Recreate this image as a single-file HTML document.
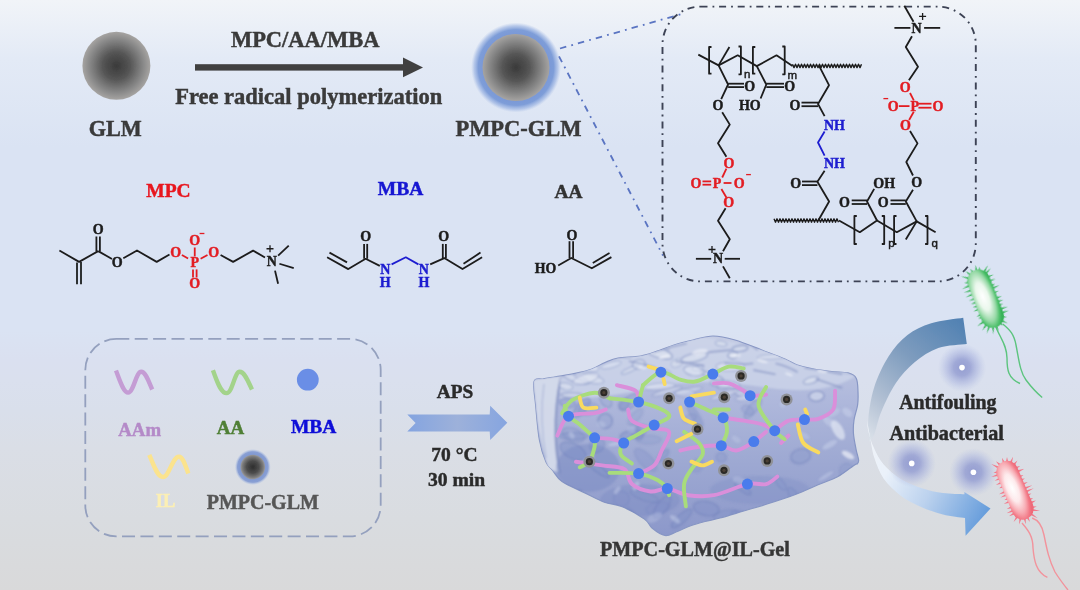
<!DOCTYPE html>
<html><head><meta charset="utf-8">
<style>
html,body{margin:0;padding:0;width:1080px;height:590px;overflow:hidden;}
svg{display:block;}
text{font-family:"Liberation Serif",serif;font-weight:bold;}
</style></head>
<body>
<svg width="1080" height="590" viewBox="0 0 1080 590">
<defs>
<linearGradient id="bg" x1="0" y1="0" x2="0" y2="1">
<stop offset="0" stop-color="#f1f4f8"/>
<stop offset="0.10" stop-color="#e3eaf6"/>
<stop offset="0.25" stop-color="#dae3f3"/>
<stop offset="0.51" stop-color="#dae3f3"/>
<stop offset="0.56" stop-color="#dae3f3"/>
<stop offset="0.61" stop-color="#dae0f0"/>
<stop offset="0.645" stop-color="#dae0ee"/>
<stop offset="0.695" stop-color="#d9dfeb"/>
<stop offset="0.76" stop-color="#dadee6"/>
<stop offset="0.88" stop-color="#d9dce0"/>
<stop offset="1" stop-color="#d9d9da"/>
</linearGradient>
<radialGradient id="sph" cx="0.5" cy="0.5" r="0.5">
<stop offset="0" stop-color="#3a3a3a"/>
<stop offset="0.4" stop-color="#555555"/>
<stop offset="0.8" stop-color="#8a8a8a"/>
<stop offset="1" stop-color="#a6a4a2"/>
</radialGradient>
<radialGradient id="halo" cx="0.5" cy="0.5" r="0.5">
<stop offset="0.7" stop-color="#7897d6"/>
<stop offset="0.84" stop-color="#7e9dd8"/>
<stop offset="0.93" stop-color="#90abdf" stop-opacity="0.55"/>
<stop offset="1" stop-color="#a8bde6" stop-opacity="0"/>
</radialGradient>
<radialGradient id="sph2" cx="0.5" cy="0.5" r="0.5">
<stop offset="0" stop-color="#2e2e2e"/>
<stop offset="0.5" stop-color="#4c4c4c"/>
<stop offset="0.85" stop-color="#7c7c7c"/>
<stop offset="1" stop-color="#9a9a9c"/>
</radialGradient>
<radialGradient id="halo2" cx="0.5" cy="0.5" r="0.5">
<stop offset="0.68" stop-color="#7f98d2"/>
<stop offset="0.85" stop-color="#8199d2" stop-opacity="0.9"/>
<stop offset="1" stop-color="#a8bde6" stop-opacity="0"/>
</radialGradient>
<linearGradient id="aps" x1="0" y1="0" x2="1" y2="0">
<stop offset="0" stop-color="#84a4e0"/>
<stop offset="0.5" stop-color="#9db1da"/>
<stop offset="1" stop-color="#86a5e0"/>
</linearGradient>
<linearGradient id="arrU" gradientUnits="userSpaceOnUse" x1="965" y1="325" x2="868" y2="440">
<stop offset="0" stop-color="#5282b3"/>
<stop offset="0.4" stop-color="#7e9cbe"/>
<stop offset="0.75" stop-color="#b3c1d4"/>
<stop offset="1" stop-color="#dce2ea"/>
</linearGradient>
<linearGradient id="arrL" gradientUnits="userSpaceOnUse" x1="870" y1="445" x2="990" y2="510">
<stop offset="0" stop-color="#eef2f8"/>
<stop offset="0.2" stop-color="#eaf1fa"/>
<stop offset="0.55" stop-color="#bcd2ee"/>
<stop offset="1" stop-color="#659cdb"/>
</linearGradient>
<radialGradient id="glow" cx="0.5" cy="0.5" r="0.5">
<stop offset="0" stop-color="#939cd0" stop-opacity="1"/>
<stop offset="0.35" stop-color="#98a1d3" stop-opacity="0.88"/>
<stop offset="0.7" stop-color="#a8b2de" stop-opacity="0.45"/>
<stop offset="1" stop-color="#b8c3e6" stop-opacity="0"/>
</radialGradient>
<radialGradient id="gbac" cx="0.42" cy="0.45" r="0.62">
<stop offset="0" stop-color="#ffffff"/>
<stop offset="0.38" stop-color="#eaf7ec"/>
<stop offset="0.7" stop-color="#96d9a6"/>
<stop offset="0.88" stop-color="#4fc06c"/>
<stop offset="1" stop-color="#36b257"/>
</radialGradient>
<radialGradient id="rbac" cx="0.42" cy="0.45" r="0.62">
<stop offset="0" stop-color="#ffffff"/>
<stop offset="0.38" stop-color="#fdeaec"/>
<stop offset="0.7" stop-color="#f7a9b1"/>
<stop offset="0.88" stop-color="#f27a87"/>
<stop offset="1" stop-color="#ee6a79"/>
</radialGradient>
<clipPath id="gelclip"><path d="M534.1,381.3 C535.4,376.8 539.7,379.6 543.3,378.9 C546.9,378.1 550.4,377.7 555.5,376.8 C560.6,375.9 567.7,375.0 573.8,373.7 C579.9,372.4 586.8,370.9 592.0,369.0 C597.2,367.1 600.7,364.4 605.0,362.6 C609.3,360.8 612.1,359.1 618.0,358.0 C623.9,356.9 633.8,357.2 640.6,356.0 C647.4,354.8 653.4,352.3 659.0,350.5 C664.6,348.7 668.3,346.8 674.0,345.0 C679.7,343.2 686.5,341.5 693.0,340.0 C699.5,338.5 706.0,336.0 713.0,336.0 C720.0,336.0 727.0,337.7 735.0,340.0 C743.0,342.3 753.0,346.6 761.3,349.8 C769.6,353.0 779.1,356.5 785.0,359.0 C790.9,361.5 792.0,363.1 796.6,364.7 C801.2,366.3 806.9,367.7 812.8,368.8 C818.7,369.9 825.9,370.8 831.8,371.5 C837.7,372.2 843.9,371.8 848.0,372.9 C852.1,374.0 854.5,375.1 856.2,378.3 C857.9,381.5 857.8,387.6 858.0,392.0 C858.2,396.4 858.3,400.3 857.6,405.0 C856.9,409.7 854.7,415.2 854.0,420.0 C853.3,424.8 853.1,429.0 853.5,434.0 C853.9,439.0 855.4,445.8 856.2,450.1 C857.1,454.4 858.4,457.8 858.6,460.0 C858.8,462.2 858.4,462.6 857.6,463.5 C856.8,464.4 857.1,463.2 853.8,465.4 C850.5,467.6 843.5,473.5 837.6,476.7 C831.7,479.9 825.1,481.8 818.1,484.8 C811.1,487.8 804.0,491.2 795.4,494.5 C786.8,497.8 775.2,501.5 766.3,504.3 C757.4,507.1 749.7,509.2 742.0,511.5 C734.3,513.8 726.2,516.3 720.0,518.0 C713.8,519.7 710.0,520.2 705.0,521.5 C700.0,522.8 694.8,524.2 690.0,526.0 C685.2,527.8 680.2,530.4 676.0,532.0 C671.8,533.6 669.0,536.2 665.0,535.5 C661.0,534.8 655.4,530.8 652.0,528.0 C648.6,525.2 649.4,522.5 644.4,519.0 C639.4,515.5 628.9,509.5 622.2,506.7 C615.5,503.9 610.5,504.5 604.3,502.2 C598.1,499.9 591.8,496.3 584.8,492.9 C577.8,489.5 567.4,485.4 562.0,481.6 C556.6,477.8 555.1,473.5 552.4,470.2 C549.7,466.9 548.2,467.0 546.0,462.0 C543.8,457.0 541.1,449.4 539.4,440.0 C537.7,430.6 536.6,415.5 535.7,405.7 C534.8,395.9 532.8,385.8 534.1,381.3Z"/></clipPath>
<filter id="soft" x="-5%" y="-5%" width="110%" height="110%"><feGaussianBlur stdDeviation="0.9"/></filter>
<linearGradient id="gelg" x1="0" y1="0" x2="0" y2="1">
<stop offset="0" stop-color="#c4cbe3"/>
<stop offset="0.3" stop-color="#b0b9dc"/>
<stop offset="0.6" stop-color="#9faad3"/>
<stop offset="1" stop-color="#8c98ca"/>
</linearGradient>
<filter id="gblur" x="0" y="0" width="100%" height="100%" filterUnits="userSpaceOnUse"><feGaussianBlur stdDeviation="0.5"/></filter>
</defs>
<g filter="url(#gblur)">
<rect x="0" y="0" width="1080" height="590" fill="url(#bg)"/>

<!-- GLM sphere -->
<circle cx="116.4" cy="65.8" r="34" fill="url(#sph)"/>
<text x="88.7" y="136.2" font-size="22.2" fill="#3a3a3a" stroke="#3a3a3a" stroke-width="0.45">GLM</text>

<!-- arrow -->
<rect x="195" y="64.2" width="210" height="6.4" fill="#404040"/>
<polygon points="403,57.6 423,67.4 403,77.2" fill="#404040"/>
<text x="230.9" y="47.2" font-size="22.5" fill="#3a3a3a" stroke="#3a3a3a" stroke-width="0.45">MPC/AA/MBA</text>
<text x="175.2" y="104.3" font-size="22.5" fill="#3a3a3a" stroke="#3a3a3a" stroke-width="0.45">Free radical polymerization</text>

<!-- PMPC-GLM sphere -->
<circle cx="516" cy="67.5" r="45" fill="url(#halo)"/>
<circle cx="516" cy="67.5" r="33.5" fill="url(#sph)"/>
<text x="455.4" y="135.8" font-size="22.5" fill="#3a3a3a" stroke="#3a3a3a" stroke-width="0.45">PMPC-GLM</text>

<!-- blue dashed zoom lines -->
<g stroke="#5a74c2" stroke-width="1.8" fill="none" stroke-dasharray="6.5,5.2,1.8,5.1">
<line x1="560" y1="48.5" x2="681" y2="14.2"/>
<line x1="559" y1="56.3" x2="663" y2="255.6"/>
</g>
<!-- zoom box -->
<rect x="662.5" y="6.6" width="313.3" height="274.8" rx="38" ry="38" fill="none" stroke="#3c4354" stroke-width="1.9" stroke-dasharray="7,5,1.8,4.8"/>


<!-- labels -->
<text x="146.3" y="196.5" font-size="19.5" fill="#e8141e" stroke="#e8141e" stroke-width="0.45">MPC</text>
<text x="377.8" y="195.4" font-size="19.5" fill="#1414d2" stroke="#1414d2" stroke-width="0.45">MBA</text>
<text x="554.5" y="198.3" font-size="19.4" fill="#333" stroke="#333" stroke-width="0.45">AA</text>


<g stroke="#1c1c1c" stroke-width="1.8" stroke-linejoin="round" stroke-linecap="butt">
<polyline points="59.4,250.5 79.1,261.9 98.2,251.1" fill="none"/>
<polyline points="77,262.5 77,284.2" fill="none"/>
<polyline points="81,262 81,284.2" fill="none"/>
<polyline points="96.4,251.5 96.4,236.5" fill="none"/>
<polyline points="99.9,251.5 99.9,236.5" fill="none"/>
<polyline points="98.2,251.1 112,259" fill="none"/>
<polyline points="123.3,258.3 137,250.5 156.7,261.9 169.5,254.5" fill="none"/>
<polyline points="181.9,255 188.1,258.5" stroke="#e31e24" fill="none"/>
<polyline points="194.75,256.4 194.75,247.5" stroke="#e31e24" fill="none"/>
<polyline points="193,269.4 193,277.5" stroke="#e31e24" fill="none"/>
<polyline points="196.6,269.4 196.6,277.5" stroke="#e31e24" fill="none"/>
<polyline points="200.6,258.75 207.5,255" stroke="#e31e24" fill="none"/>
<polyline points="220.6,255 233.1,261.9 253.1,250.6 265,257.5" fill="none"/>
<polyline points="278.1,255.6 288.75,245.6" fill="none"/>
<polyline points="279.4,263.75 293.75,268.1" fill="none"/>
<polyline points="275,270.6 278.1,283.75" fill="none"/>
<polyline points="327.1,257.3 348.3,269.1 365.6,258.8 379.8,265.9" fill="none"/>
<polyline points="329.5,252.6 347,262.4" fill="none"/>
<polyline points="364.1,258.8 364.1,243.9" fill="none"/>
<polyline points="367.2,258.8 367.2,243.9" fill="none"/>
<polyline points="391.6,264.4 405.8,257.3 418.4,264.4" stroke="#1f1fd0" fill="none"/>
<polyline points="430.2,264.4 444.3,258.1 462.5,269.1 482.1,257.3" fill="none"/>
<polyline points="463.5,263.8 480.5,252.6" fill="none"/>
<polyline points="442.8,258.1 442.8,243.9" fill="none"/>
<polyline points="445.9,258.1 445.9,243.9" fill="none"/>
<polyline points="558.2,265.5 571.3,258 591.8,268.3 611.4,257.1" fill="none"/>
<polyline points="592.8,263 609.5,253" fill="none"/>
<polyline points="569.5,258 569.5,241.2" fill="none"/>
<polyline points="573.1,258 573.1,241.2" fill="none"/>
<polyline points="698.3,54.6 718.6,65.4 737.7,55.3 756.8,66.1 776.5,55.3 792.5,65.9" fill="none"/>
<polyline points="718.6,65.4 729.4,47" fill="none"/>
<g stroke-width="1.4"><polyline points="792.5,64.2 794.0,67.6 795.5,64.2 797.0,67.6 798.5,64.2 800.0,67.6 801.5,64.2 803.0,67.6 804.5,64.2 806.0,67.6 807.5,64.2 809.0,67.6 810.5,64.2 812.0,67.6 813.5,64.2 815.0,67.6 816.5,64.2 818.0,67.6 819.5,64.2 821.0,67.6 822.5,64.2 824.0,67.6 825.5,64.2 827.0,67.6 828.5,64.2 830.0,67.6 831.5,64.2 833.0,67.6 834.5,64.2 836.0,67.6 837.5,64.2 839.0,67.6 840.5,64.2 842.0,67.6 843.5,64.2 845.0,67.6 846.5,64.2 848.0,67.6 849.5,64.2 851.0,67.6 852.5,64.2 854.0,67.6 855.5,64.2 857.0,67.6 858.5,64.2 860.0,67.6 861.5,64.2" fill="none"/></g>
<polyline points="711.5,47 709.1,47 709.1,73.7 711.5,73.7" fill="none"/>
<polyline points="738.5,46.5 740.9,46.5 740.9,74.3 738.5,74.3" fill="none"/>
<polyline points="755.3,47 752.9,47 752.9,73.7 755.3,73.7" fill="none"/>
<polyline points="782.3000000000001,46.5 784.7,46.5 784.7,74.3 782.3000000000001,74.3" fill="none"/>
<polyline points="718.6,65.4 728.1,84.5 721.2,99.1" fill="none"/>
<polyline points="728.1,83.7 744,83.7" fill="none"/>
<polyline points="728.1,87.1 744,87.1" fill="none"/>
<polyline points="722.2,112.3 729.8,124.6 718,143.2 726.4,156.8" fill="none"/>
<polyline points="726.4,168.6 722.2,177.5" stroke="#e31e24" fill="none"/>
<polyline points="702.5,181.4 711.2,181.4" stroke="#e31e24" fill="none"/>
<polyline points="702.5,184.7 711.2,184.7" stroke="#e31e24" fill="none"/>
<polyline points="723.6,183 731.5,183" stroke="#e31e24" fill="none"/>
<polyline points="721.4,189 726.4,197.5" stroke="#e31e24" fill="none"/>
<polyline points="725.6,208.3 718,220.7 729.8,239.3 723,251.2" fill="none"/>
<polyline points="695.9,258.8 711.2,258.8" fill="none"/>
<polyline points="724.7,258.8 740,258.8" fill="none"/>
<polyline points="723,266.4 729.8,278.3" fill="none"/>
<polyline points="756.8,66.1 766.3,84.5 760.6,98.5" fill="none"/>
<polyline points="766.3,83.7 784,83.7" fill="none"/>
<polyline points="766.3,87.1 784,87.1" fill="none"/>
<polyline points="819.1,65.9 829,85.2 818,104 824.6,116.1" fill="none"/>
<polyline points="801.5,102.6 818,102.6" fill="none"/>
<polyline points="801.5,106.2 818,106.2" fill="none"/>
<polyline points="824.6,131.5 818,142.5 824.6,155.7" stroke="#1f1fd0" fill="none"/>
<polyline points="824.6,170.8 817.4,181.7 829.1,201.5 818.3,220.5" fill="none"/>
<polyline points="802,181.5 817.4,181.5" fill="none"/>
<polyline points="802,185.1 817.4,185.1" fill="none"/>
<g stroke-width="1.4"><polyline points="774.0,218.8 775.5,222.2 777.0,218.8 778.5,222.2 780.0,218.8 781.5,222.2 783.0,218.8 784.5,222.2 786.0,218.8 787.5,222.2 789.0,218.8 790.5,222.2 792.0,218.8 793.5,222.2 795.0,218.8 796.5,222.2 798.0,218.8 799.5,222.2 801.0,218.8 802.5,222.2 804.0,218.8 805.5,222.2 807.0,218.8 808.5,222.2 810.0,218.8 811.5,222.2 813.0,218.8 814.5,222.2 816.0,218.8 817.5,222.2 819.0,218.8 820.5,222.2 822.0,218.8 823.5,222.2 825.0,218.8 826.5,222.2 828.0,218.8 829.5,222.2 831.0,218.8 832.5,222.2 834.0,218.8 835.5,222.2 837.0,218.8 838.5,222.2" fill="none"/></g>
<polyline points="839,220.5 859.8,232.2 877,220.5 896.8,232.2 916.7,221.4 935.6,232.2" fill="none"/>
<polyline points="856.8,216 854.4,216 854.4,244 856.8,244" fill="none"/>
<polyline points="881.8000000000001,216 884.2,216 884.2,244 881.8000000000001,244" fill="none"/>
<polyline points="896.5,216 894.1,216 894.1,244 896.5,244" fill="none"/>
<polyline points="925.1,216 927.5,216 927.5,244 925.1,244" fill="none"/>
<polyline points="916.7,221.4 905.8,239.5" fill="none"/>
<polyline points="877,220.5 867,201.5 874.2,188.9" fill="none"/>
<polyline points="851.7,200.4 867,200.4" fill="none"/>
<polyline points="851.7,204 867,204" fill="none"/>
<polyline points="916.7,221.4 905.8,201.5 913,189.8" fill="none"/>
<polyline points="890.5,200.4 905.8,200.4" fill="none"/>
<polyline points="890.5,204 905.8,204" fill="none"/>
<polyline points="913,175.5 906.3,162 917.5,143.4 910,131" fill="none"/>
<polyline points="909.1,120 913.8,111.7" stroke="#e31e24" fill="none"/>
<polyline points="898.9,106.1 909.5,106.1" stroke="#e31e24" fill="none"/>
<polyline points="918.4,103.7 931.5,103.7" stroke="#e31e24" fill="none"/>
<polyline points="918.4,107.7 931.5,107.7" stroke="#e31e24" fill="none"/>
<polyline points="913.8,100.3 910,93" stroke="#e31e24" fill="none"/>
<polyline points="908.9,80.3 918,66.8 905.8,47 912,36.3" fill="none"/>
<polyline points="894.4,27.9 910.4,27.9" fill="none"/>
<polyline points="924.1,27.9 940.2,27.9" fill="none"/>
<polyline points="913.5,21.8 904.3,5.8" fill="none"/>
</g>
<text x="98.2" y="233.5" font-size="14" fill="#1c1c1c" text-anchor="middle"  stroke="#1c1c1c" stroke-width="0.45">O</text>
<text x="117.3" y="266.5" font-size="14" fill="#1c1c1c" text-anchor="middle"  stroke="#1c1c1c" stroke-width="0.45">O</text>
<text x="175.6" y="256.5" font-size="14" fill="#e31e24" text-anchor="middle"  stroke="#e31e24" stroke-width="0.45">O</text>
<text x="194.75" y="266.5" font-size="14" fill="#e31e24" text-anchor="middle"  stroke="#e31e24" stroke-width="0.45">P</text>
<text x="194.75" y="244.6" font-size="14" fill="#e31e24" text-anchor="middle"  stroke="#e31e24" stroke-width="0.45">O</text>
<text x="194.75" y="288.4" font-size="14" fill="#e31e24" text-anchor="middle"  stroke="#e31e24" stroke-width="0.45">O</text>
<text x="213.75" y="256.5" font-size="14" fill="#e31e24" text-anchor="middle"  stroke="#e31e24" stroke-width="0.45">O</text>
<line x1="199.6" y1="233.5" x2="204.4" y2="233.5" stroke="#e31e24" stroke-width="1.3"/>
<text x="271.9" y="265.9" font-size="14" fill="#1c1c1c" text-anchor="middle"  stroke="#1c1c1c" stroke-width="0.45">N</text>
<path d="M266.5,248.75H273.5M270,245.25V252.25" stroke="#1c1c1c" stroke-width="1.3"/>
<text x="365.6" y="241.4" font-size="14" fill="#1c1c1c" text-anchor="middle"  stroke="#1c1c1c" stroke-width="0.45">O</text>
<text x="443.6" y="241.4" font-size="14" fill="#1c1c1c" text-anchor="middle"  stroke="#1c1c1c" stroke-width="0.45">O</text>
<text x="385.3" y="273.7" font-size="14" fill="#1f1fd0" text-anchor="middle"  stroke="#1f1fd0" stroke-width="0.45">N</text>
<text x="385.3" y="287.1" font-size="14" fill="#1f1fd0" text-anchor="middle"  stroke="#1f1fd0" stroke-width="0.45">H</text>
<text x="423.9" y="273.7" font-size="14" fill="#1f1fd0" text-anchor="middle"  stroke="#1f1fd0" stroke-width="0.45">N</text>
<text x="423.9" y="287.1" font-size="14" fill="#1f1fd0" text-anchor="middle"  stroke="#1f1fd0" stroke-width="0.45">H</text>
<text x="545.6" y="272.9" font-size="13.8" fill="#1c1c1c" text-anchor="middle"  stroke="#1c1c1c" stroke-width="0.45">HO</text>
<text x="571.9" y="239.7" font-size="14" fill="#1c1c1c" text-anchor="middle"  stroke="#1c1c1c" stroke-width="0.45">O</text>
<text x="749.8" y="91.0" font-size="14" fill="#1c1c1c" text-anchor="middle"  stroke="#1c1c1c" stroke-width="0.45">O</text>
<text x="718" y="109.5" font-size="14" fill="#1c1c1c" text-anchor="middle"  stroke="#1c1c1c" stroke-width="0.45">O</text>
<text x="789.8" y="91.0" font-size="14" fill="#1c1c1c" text-anchor="middle"  stroke="#1c1c1c" stroke-width="0.45">O</text>
<text x="749.8" y="110.1" font-size="14" fill="#1c1c1c" text-anchor="middle"  stroke="#1c1c1c" stroke-width="0.45">HO</text>
<text x="729" y="168.2" font-size="14" fill="#e31e24" text-anchor="middle"  stroke="#e31e24" stroke-width="0.45">O</text>
<text x="717.1" y="187.6" font-size="14" fill="#e31e24" text-anchor="middle"  stroke="#e31e24" stroke-width="0.45">P</text>
<text x="695.9" y="187.6" font-size="14" fill="#e31e24" text-anchor="middle"  stroke="#e31e24" stroke-width="0.45">O</text>
<text x="739.2" y="187.6" font-size="14" fill="#e31e24" text-anchor="middle"  stroke="#e31e24" stroke-width="0.45">O</text>
<text x="728.6" y="206.6" font-size="14" fill="#e31e24" text-anchor="middle"  stroke="#e31e24" stroke-width="0.45">O</text>
<text x="718" y="263.4" font-size="14" fill="#1c1c1c" text-anchor="middle"  stroke="#1c1c1c" stroke-width="0.45">N</text>
<text x="794.9" y="109.6" font-size="14" fill="#1c1c1c" text-anchor="middle"  stroke="#1c1c1c" stroke-width="0.45">O</text>
<text x="834.5" y="129.5" font-size="14" fill="#1f1fd0" text-anchor="middle"  stroke="#1f1fd0" stroke-width="0.45">NH</text>
<text x="834.5" y="168.0" font-size="14" fill="#1f1fd0" text-anchor="middle"  stroke="#1f1fd0" stroke-width="0.45">NH</text>
<text x="795.7" y="188.1" font-size="14" fill="#1c1c1c" text-anchor="middle"  stroke="#1c1c1c" stroke-width="0.45">O</text>
<text x="844.5" y="207.0" font-size="14" fill="#1c1c1c" text-anchor="middle"  stroke="#1c1c1c" stroke-width="0.45">O</text>
<text x="884.2" y="188.1" font-size="14" fill="#1c1c1c" text-anchor="middle"  stroke="#1c1c1c" stroke-width="0.45">OH</text>
<text x="883.3" y="207.0" font-size="14" fill="#1c1c1c" text-anchor="middle"  stroke="#1c1c1c" stroke-width="0.45">O</text>
<text x="916.7" y="187.2" font-size="14" fill="#1c1c1c" text-anchor="middle"  stroke="#1c1c1c" stroke-width="0.45">O</text>
<text x="905.4" y="130.2" font-size="14" fill="#e31e24" text-anchor="middle"  stroke="#e31e24" stroke-width="0.45">O</text>
<text x="914.7" y="110.7" font-size="14" fill="#e31e24" text-anchor="middle"  stroke="#e31e24" stroke-width="0.45">P</text>
<text x="893.3" y="110.7" font-size="14" fill="#e31e24" text-anchor="middle"  stroke="#e31e24" stroke-width="0.45">O</text>
<text x="938" y="110.7" font-size="14" fill="#e31e24" text-anchor="middle"  stroke="#e31e24" stroke-width="0.45">O</text>
<text x="905.3" y="91.6" font-size="14" fill="#e31e24" text-anchor="middle"  stroke="#e31e24" stroke-width="0.45">O</text>
<text x="916.5" y="32.5" font-size="14" fill="#1c1c1c" text-anchor="middle"  stroke="#1c1c1c" stroke-width="0.45">N</text>
<line x1="746.1" y1="174.6" x2="750.9" y2="174.6" stroke="#e31e24" stroke-width="1.3"/>
<line x1="883.4" y1="98.6" x2="888.1999999999999" y2="98.6" stroke="#e31e24" stroke-width="1.3"/>
<path d="M708.5,249.5H715.5M712,246.0V253.0" stroke="#1c1c1c" stroke-width="1.3"/>
<path d="M919.1,16.4H926.1M922.6,12.899999999999999V19.9" stroke="#1c1c1c" stroke-width="1.3"/>
<text x="747.2" y="77.5" font-size="11.5" fill="#1c1c1c" text-anchor="middle" style="font-family:'Liberation Sans',sans-serif;font-weight:normal" stroke="#1c1c1c" stroke-width="0.45">n</text>
<text x="792.4" y="79.39999999999999" font-size="11.5" fill="#1c1c1c" text-anchor="middle" style="font-family:'Liberation Sans',sans-serif;font-weight:normal" stroke="#1c1c1c" stroke-width="0.45">m</text>
<text x="891.4" y="246.8" font-size="11.5" fill="#1c1c1c" text-anchor="middle" style="font-family:'Liberation Sans',sans-serif;font-weight:normal" stroke="#1c1c1c" stroke-width="0.45">p</text>
<text x="934.7" y="246.8" font-size="11.5" fill="#1c1c1c" text-anchor="middle" style="font-family:'Liberation Sans',sans-serif;font-weight:normal" stroke="#1c1c1c" stroke-width="0.45">q</text>
<!-- legend box -->
<rect x="85.3" y="338.9" width="295.4" height="197.5" rx="31" ry="31" fill="none" stroke="#94a0be" stroke-width="1.8" stroke-dasharray="13,5.4"/>
<g fill="none" stroke-width="4.4" stroke-linecap="butt">
<path d="M116,370.5 C120,381 123.5,392.6 128.2,392.6 C133.5,392.6 136,371.8 141.2,371.8 C145.5,371.8 148.5,381 152.2,389.5" stroke="#c49cd4"/>
<path d="M212.9,370.3 C217,381 220.5,393.1 226.6,393.1 C232.5,393.1 234.5,371.8 239.6,371.8 C244.5,371.8 248,381 252,389.5" stroke="#a3d38b"/>
<path d="M149.3,454.8 C154,466 157.5,477 163.1,477 C169,477 172.5,456.7 178.9,456.7 C183,456.7 185.5,466 188.3,473.5" stroke="#fbe38e"/>
</g>
<circle cx="307.8" cy="379.7" r="10.9" fill="#6a8ee6"/>
<circle cx="252.8" cy="467" r="18" fill="url(#halo2)"/>
<circle cx="252.8" cy="467" r="12.3" fill="url(#sph2)"/>
<text x="118.3" y="435.8" font-size="18.8" fill="#b48ac8" stroke="#b48ac8" stroke-width="0.45">AAm</text>
<text x="216.7" y="433.6" font-size="19" fill="#4f7f35" stroke="#4f7f35" stroke-width="0.45">AA</text>
<text x="290.9" y="432.6" font-size="19.5" fill="#0e0ed8" stroke="#0e0ed8" stroke-width="0.45">MBA</text>
<text x="155.7" y="506.7" font-size="18.5" fill="#fcefb4" stroke="#fcefb4" stroke-width="0.45">IL</text>
<text x="206.7" y="508.5" font-size="20" fill="#575757" stroke="#575757" stroke-width="0.45">PMPC-GLM</text>
<!-- APS arrow -->
<polygon points="407.3,414.5 415.6,423 407.3,431.6 489.7,431.6 490.2,439.9 507.3,422.8 490.2,405.7 489.7,414.5" fill="url(#aps)"/>
<text x="436.8" y="397.5" font-size="19.3" fill="#2a2a2a" stroke="#2a2a2a" stroke-width="0.45">APS</text>
<text x="431.3" y="461.4" font-size="19.5" fill="#2a2a2a" stroke="#2a2a2a" stroke-width="0.45">70 °C</text>
<text x="428" y="485.6" font-size="19.6" fill="#2a2a2a" stroke="#2a2a2a" stroke-width="0.45">30 min</text>
<text x="600" y="556.2" font-size="20.15" fill="#363636" stroke="#363636" stroke-width="0.45">PMPC-GLM@IL-Gel</text>

<path d="M534.1,381.3 C535.4,376.8 539.7,379.6 543.3,378.9 C546.9,378.1 550.4,377.7 555.5,376.8 C560.6,375.9 567.7,375.0 573.8,373.7 C579.9,372.4 586.8,370.9 592.0,369.0 C597.2,367.1 600.7,364.4 605.0,362.6 C609.3,360.8 612.1,359.1 618.0,358.0 C623.9,356.9 633.8,357.2 640.6,356.0 C647.4,354.8 653.4,352.3 659.0,350.5 C664.6,348.7 668.3,346.8 674.0,345.0 C679.7,343.2 686.5,341.5 693.0,340.0 C699.5,338.5 706.0,336.0 713.0,336.0 C720.0,336.0 727.0,337.7 735.0,340.0 C743.0,342.3 753.0,346.6 761.3,349.8 C769.6,353.0 779.1,356.5 785.0,359.0 C790.9,361.5 792.0,363.1 796.6,364.7 C801.2,366.3 806.9,367.7 812.8,368.8 C818.7,369.9 825.9,370.8 831.8,371.5 C837.7,372.2 843.9,371.8 848.0,372.9 C852.1,374.0 854.5,375.1 856.2,378.3 C857.9,381.5 857.8,387.6 858.0,392.0 C858.2,396.4 858.3,400.3 857.6,405.0 C856.9,409.7 854.7,415.2 854.0,420.0 C853.3,424.8 853.1,429.0 853.5,434.0 C853.9,439.0 855.4,445.8 856.2,450.1 C857.1,454.4 858.4,457.8 858.6,460.0 C858.8,462.2 858.4,462.6 857.6,463.5 C856.8,464.4 857.1,463.2 853.8,465.4 C850.5,467.6 843.5,473.5 837.6,476.7 C831.7,479.9 825.1,481.8 818.1,484.8 C811.1,487.8 804.0,491.2 795.4,494.5 C786.8,497.8 775.2,501.5 766.3,504.3 C757.4,507.1 749.7,509.2 742.0,511.5 C734.3,513.8 726.2,516.3 720.0,518.0 C713.8,519.7 710.0,520.2 705.0,521.5 C700.0,522.8 694.8,524.2 690.0,526.0 C685.2,527.8 680.2,530.4 676.0,532.0 C671.8,533.6 669.0,536.2 665.0,535.5 C661.0,534.8 655.4,530.8 652.0,528.0 C648.6,525.2 649.4,522.5 644.4,519.0 C639.4,515.5 628.9,509.5 622.2,506.7 C615.5,503.9 610.5,504.5 604.3,502.2 C598.1,499.9 591.8,496.3 584.8,492.9 C577.8,489.5 567.4,485.4 562.0,481.6 C556.6,477.8 555.1,473.5 552.4,470.2 C549.7,466.9 548.2,467.0 546.0,462.0 C543.8,457.0 541.1,449.4 539.4,440.0 C537.7,430.6 536.6,415.5 535.7,405.7 C534.8,395.9 532.8,385.8 534.1,381.3Z" fill="url(#gelg)" stroke="#8796c4" stroke-width="1.2"/>
<g clip-path="url(#gelclip)"><g filter="url(#soft)">
<path d="M533,380 C542,378 552,377 562,376 C558,392 556,410 556,430 C556,446 557,458 560,472 C555,472 551,470 548,468 C542,450 538,430 536,410 C535,398 534,390 533,380Z" fill="#d4daea" opacity="0.95"/>
<path d="M561,377 C557,395 555,415 555.5,435 C556,450 557.5,462 560,473" stroke="#6f80b8" stroke-width="2" fill="none" opacity="0.75"/>
<path d="M544,384 C541,405 541,430 546,458" stroke="#9aa6cf" stroke-width="1.3" fill="none" opacity="0.6"/>
<ellipse cx="588" cy="468" rx="32" ry="24" fill="#7688c0" opacity="0.45"/>
<ellipse cx="640" cy="500" rx="40" ry="16" fill="#7688c0" opacity="0.35"/>
<ellipse cx="760" cy="490" rx="50" ry="14" fill="#7a8bc2" opacity="0.3"/>
<path d="M560,378 C600,368 640,346 700,337 C740,340 780,356 856,376 C830,392 800,392 770,388 C730,382 690,378 650,388 C615,396 585,400 560,398Z" fill="#cdd5ea" opacity="0.75"/>
<ellipse cx="657.3" cy="348.7" rx="12.2" ry="2.2" transform="rotate(2 657.3 348.7)" fill="#e3e8f4" fill-opacity="0.41" stroke="#6f81ba" stroke-opacity="0.32" stroke-width="1.2"/>
<ellipse cx="575.7" cy="365.2" rx="5.8" ry="2.3" transform="rotate(-4 575.7 365.2)" fill="#e3e8f4" fill-opacity="0.55" stroke="#6f81ba" stroke-opacity="0.34" stroke-width="1.0"/>
<ellipse cx="743.8" cy="395.0" rx="11.3" ry="3.2" transform="rotate(24 743.8 395.0)" fill="#e3e8f4" fill-opacity="0.31" stroke="#6f81ba" stroke-opacity="0.56" stroke-width="1.0"/>
<ellipse cx="606.1" cy="346.8" rx="8.4" ry="4.4" transform="rotate(-16 606.1 346.8)" fill="#e3e8f4" fill-opacity="0.47" stroke="#6f81ba" stroke-opacity="0.49" stroke-width="1.1"/>
<ellipse cx="721.1" cy="343.6" rx="5.7" ry="2.6" transform="rotate(9 721.1 343.6)" fill="#e3e8f4" fill-opacity="0.43" stroke="#6f81ba" stroke-opacity="0.39" stroke-width="1.3"/>
<ellipse cx="694.2" cy="357.4" rx="13.7" ry="4.1" transform="rotate(-13 694.2 357.4)" fill="#e3e8f4" fill-opacity="0.47" stroke="#6f81ba" stroke-opacity="0.46" stroke-width="1.5"/>
<ellipse cx="772.9" cy="356.7" rx="15.8" ry="2.4" transform="rotate(-4 772.9 356.7)" fill="#e3e8f4" fill-opacity="0.53" stroke="#6f81ba" stroke-opacity="0.35" stroke-width="1.2"/>
<ellipse cx="576.2" cy="378.8" rx="13.4" ry="3.7" transform="rotate(19 576.2 378.8)" fill="#e3e8f4" fill-opacity="0.39" stroke="#6f81ba" stroke-opacity="0.51" stroke-width="1.3"/>
<ellipse cx="730.3" cy="366.5" rx="14.2" ry="4.8" transform="rotate(-1 730.3 366.5)" fill="#e3e8f4" fill-opacity="0.50" stroke="#6f81ba" stroke-opacity="0.32" stroke-width="1.4"/>
<ellipse cx="749.4" cy="397.6" rx="14.0" ry="2.9" transform="rotate(-6 749.4 397.6)" fill="#e3e8f4" fill-opacity="0.50" stroke="#6f81ba" stroke-opacity="0.31" stroke-width="1.2"/>
<ellipse cx="612.9" cy="346.8" rx="5.6" ry="4.3" transform="rotate(-19 612.9 346.8)" fill="#e3e8f4" fill-opacity="0.37" stroke="#6f81ba" stroke-opacity="0.42" stroke-width="1.5"/>
<ellipse cx="588.0" cy="366.1" rx="11.0" ry="4.7" transform="rotate(16 588.0 366.1)" fill="#e3e8f4" fill-opacity="0.56" stroke="#6f81ba" stroke-opacity="0.38" stroke-width="1.1"/>
<ellipse cx="667.2" cy="391.3" rx="15.5" ry="2.5" transform="rotate(-16 667.2 391.3)" fill="#e3e8f4" fill-opacity="0.37" stroke="#6f81ba" stroke-opacity="0.37" stroke-width="1.2"/>
<ellipse cx="732.9" cy="355.2" rx="5.0" ry="3.3" transform="rotate(-7 732.9 355.2)" fill="#e3e8f4" fill-opacity="0.47" stroke="#6f81ba" stroke-opacity="0.59" stroke-width="1.4"/>
<ellipse cx="711.9" cy="375.8" rx="12.4" ry="2.2" transform="rotate(20 711.9 375.8)" fill="#e3e8f4" fill-opacity="0.53" stroke="#6f81ba" stroke-opacity="0.56" stroke-width="1.4"/>
<ellipse cx="676.8" cy="363.1" rx="6.1" ry="3.9" transform="rotate(-22 676.8 363.1)" fill="#e3e8f4" fill-opacity="0.32" stroke="#6f81ba" stroke-opacity="0.36" stroke-width="0.9"/>
<ellipse cx="661.9" cy="343.0" rx="5.0" ry="2.5" transform="rotate(-20 661.9 343.0)" fill="#e3e8f4" fill-opacity="0.41" stroke="#6f81ba" stroke-opacity="0.31" stroke-width="1.5"/>
<ellipse cx="740.0" cy="348.6" rx="7.8" ry="3.0" transform="rotate(-7 740.0 348.6)" fill="#e3e8f4" fill-opacity="0.34" stroke="#6f81ba" stroke-opacity="0.55" stroke-width="1.6"/>
<ellipse cx="697.8" cy="368.1" rx="5.9" ry="2.3" transform="rotate(-8 697.8 368.1)" fill="#e3e8f4" fill-opacity="0.38" stroke="#6f81ba" stroke-opacity="0.55" stroke-width="0.9"/>
<ellipse cx="571.6" cy="395.2" rx="10.8" ry="2.4" transform="rotate(2 571.6 395.2)" fill="#e3e8f4" fill-opacity="0.31" stroke="#6f81ba" stroke-opacity="0.46" stroke-width="1.6"/>
<ellipse cx="811.0" cy="380.4" rx="7.9" ry="3.1" transform="rotate(-17 811.0 380.4)" fill="#e3e8f4" fill-opacity="0.53" stroke="#6f81ba" stroke-opacity="0.46" stroke-width="1.4"/>
<ellipse cx="659.0" cy="352.9" rx="13.9" ry="5.0" transform="rotate(18 659.0 352.9)" fill="#e3e8f4" fill-opacity="0.54" stroke="#6f81ba" stroke-opacity="0.55" stroke-width="1.4"/>
<ellipse cx="629.6" cy="370.0" rx="8.9" ry="2.1" transform="rotate(-24 629.6 370.0)" fill="#e3e8f4" fill-opacity="0.38" stroke="#6f81ba" stroke-opacity="0.38" stroke-width="1.4"/>
<ellipse cx="837.6" cy="365.9" rx="15.3" ry="5.0" transform="rotate(23 837.6 365.9)" fill="#e3e8f4" fill-opacity="0.41" stroke="#6f81ba" stroke-opacity="0.37" stroke-width="1.0"/>
<ellipse cx="621.1" cy="351.9" rx="11.9" ry="4.7" transform="rotate(17 621.1 351.9)" fill="#e3e8f4" fill-opacity="0.44" stroke="#6f81ba" stroke-opacity="0.50" stroke-width="1.4"/>
<ellipse cx="589.2" cy="378.3" rx="15.0" ry="4.3" transform="rotate(13 589.2 378.3)" fill="#e3e8f4" fill-opacity="0.44" stroke="#6f81ba" stroke-opacity="0.35" stroke-width="1.4"/>
<ellipse cx="659.8" cy="386.4" rx="15.7" ry="3.2" transform="rotate(-5 659.8 386.4)" fill="#e3e8f4" fill-opacity="0.58" stroke="#6f81ba" stroke-opacity="0.52" stroke-width="0.9"/>
<ellipse cx="601.2" cy="348.8" rx="15.0" ry="4.4" transform="rotate(-18 601.2 348.8)" fill="#e3e8f4" fill-opacity="0.55" stroke="#6f81ba" stroke-opacity="0.59" stroke-width="1.3"/>
<ellipse cx="664.9" cy="371.8" rx="6.4" ry="2.0" transform="rotate(24 664.9 371.8)" fill="#e3e8f4" fill-opacity="0.49" stroke="#6f81ba" stroke-opacity="0.46" stroke-width="1.5"/>
<ellipse cx="688.6" cy="390.6" rx="14.1" ry="2.6" transform="rotate(-12 688.6 390.6)" fill="#e3e8f4" fill-opacity="0.39" stroke="#6f81ba" stroke-opacity="0.37" stroke-width="1.3"/>
<ellipse cx="638.9" cy="364.3" rx="6.4" ry="4.7" transform="rotate(-7 638.9 364.3)" fill="#e3e8f4" fill-opacity="0.44" stroke="#6f81ba" stroke-opacity="0.48" stroke-width="1.5"/>
<ellipse cx="684.9" cy="393.2" rx="10.5" ry="3.6" transform="rotate(1 684.9 393.2)" fill="#e3e8f4" fill-opacity="0.31" stroke="#6f81ba" stroke-opacity="0.43" stroke-width="0.9"/>
<ellipse cx="566.1" cy="386.4" rx="6.9" ry="3.4" transform="rotate(11 566.1 386.4)" fill="#e3e8f4" fill-opacity="0.47" stroke="#6f81ba" stroke-opacity="0.40" stroke-width="1.2"/>
<ellipse cx="723.3" cy="385.5" rx="6.2" ry="3.7" transform="rotate(-13 723.3 385.5)" fill="#e3e8f4" fill-opacity="0.38" stroke="#6f81ba" stroke-opacity="0.53" stroke-width="1.2"/>
<ellipse cx="725.1" cy="384.1" rx="15.0" ry="3.3" transform="rotate(6 725.1 384.1)" fill="#e3e8f4" fill-opacity="0.45" stroke="#6f81ba" stroke-opacity="0.45" stroke-width="1.4"/>
<ellipse cx="693.9" cy="370.9" rx="10.3" ry="4.8" transform="rotate(10 693.9 370.9)" fill="#e3e8f4" fill-opacity="0.56" stroke="#6f81ba" stroke-opacity="0.58" stroke-width="1.0"/>
<ellipse cx="724.5" cy="394.7" rx="14.2" ry="2.4" transform="rotate(-19 724.5 394.7)" fill="#e3e8f4" fill-opacity="0.43" stroke="#6f81ba" stroke-opacity="0.32" stroke-width="1.0"/>
<ellipse cx="585.8" cy="378.8" rx="13.6" ry="4.7" transform="rotate(-17 585.8 378.8)" fill="#e3e8f4" fill-opacity="0.51" stroke="#6f81ba" stroke-opacity="0.50" stroke-width="0.9"/>
<ellipse cx="816.6" cy="396.1" rx="7.4" ry="4.9" transform="rotate(-5 816.6 396.1)" fill="#e3e8f4" fill-opacity="0.45" stroke="#6f81ba" stroke-opacity="0.60" stroke-width="1.5"/>
<ellipse cx="611.0" cy="365.0" rx="10.7" ry="3.0" transform="rotate(-15 611.0 365.0)" fill="#e3e8f4" fill-opacity="0.40" stroke="#6f81ba" stroke-opacity="0.52" stroke-width="0.8"/>
<ellipse cx="721.2" cy="457.3" rx="5.2" ry="4.7" transform="rotate(15 721.2 457.3)" fill="#7c8ec6" fill-opacity="0.28" stroke="#6476b4" stroke-opacity="0.22" stroke-width="1.6"/>
<ellipse cx="791.5" cy="526.3" rx="6.0" ry="4.3" transform="rotate(-55 791.5 526.3)" fill="#7c8ec6" fill-opacity="0.34" stroke="#6476b4" stroke-opacity="0.27" stroke-width="0.9"/>
<ellipse cx="681.7" cy="518.5" rx="13.2" ry="4.3" transform="rotate(-42 681.7 518.5)" fill="#7c8ec6" fill-opacity="0.38" stroke="#6476b4" stroke-opacity="0.34" stroke-width="1.4"/>
<ellipse cx="581.8" cy="407.5" rx="11.9" ry="5.1" transform="rotate(-51 581.8 407.5)" fill="#7c8ec6" fill-opacity="0.38" stroke="#6476b4" stroke-opacity="0.36" stroke-width="1.4"/>
<ellipse cx="580.1" cy="511.3" rx="5.7" ry="7.3" transform="rotate(-6 580.1 511.3)" fill="#7c8ec6" fill-opacity="0.23" stroke="#6476b4" stroke-opacity="0.34" stroke-width="1.5"/>
<ellipse cx="635.4" cy="416.8" rx="10.3" ry="4.2" transform="rotate(-47 635.4 416.8)" fill="#7c8ec6" fill-opacity="0.19" stroke="#6476b4" stroke-opacity="0.21" stroke-width="1.0"/>
<ellipse cx="648.6" cy="439.7" rx="12.6" ry="4.4" transform="rotate(0 648.6 439.7)" fill="#7c8ec6" fill-opacity="0.19" stroke="#6476b4" stroke-opacity="0.29" stroke-width="0.8"/>
<ellipse cx="630.1" cy="402.0" rx="12.3" ry="5.8" transform="rotate(-37 630.1 402.0)" fill="#7c8ec6" fill-opacity="0.27" stroke="#6476b4" stroke-opacity="0.43" stroke-width="0.9"/>
<ellipse cx="800.7" cy="456.2" rx="10.0" ry="7.2" transform="rotate(-13 800.7 456.2)" fill="#7c8ec6" fill-opacity="0.28" stroke="#6476b4" stroke-opacity="0.37" stroke-width="1.6"/>
<ellipse cx="657.8" cy="508.2" rx="12.1" ry="6.2" transform="rotate(-11 657.8 508.2)" fill="#7c8ec6" fill-opacity="0.24" stroke="#6476b4" stroke-opacity="0.21" stroke-width="0.9"/>
<ellipse cx="576.2" cy="496.3" rx="7.6" ry="3.8" transform="rotate(-50 576.2 496.3)" fill="#7c8ec6" fill-opacity="0.36" stroke="#6476b4" stroke-opacity="0.42" stroke-width="1.3"/>
<ellipse cx="639.6" cy="431.5" rx="7.9" ry="5.3" transform="rotate(-41 639.6 431.5)" fill="#7c8ec6" fill-opacity="0.26" stroke="#6476b4" stroke-opacity="0.27" stroke-width="1.6"/>
<ellipse cx="846.8" cy="471.1" rx="7.4" ry="7.8" transform="rotate(-23 846.8 471.1)" fill="#7c8ec6" fill-opacity="0.24" stroke="#6476b4" stroke-opacity="0.20" stroke-width="1.1"/>
<ellipse cx="697.4" cy="465.4" rx="7.0" ry="5.5" transform="rotate(-59 697.4 465.4)" fill="#7c8ec6" fill-opacity="0.22" stroke="#6476b4" stroke-opacity="0.22" stroke-width="1.1"/>
<ellipse cx="567.5" cy="402.9" rx="8.0" ry="4.2" transform="rotate(10 567.5 402.9)" fill="#7c8ec6" fill-opacity="0.28" stroke="#6476b4" stroke-opacity="0.39" stroke-width="1.3"/>
<ellipse cx="769.8" cy="514.3" rx="8.9" ry="4.6" transform="rotate(58 769.8 514.3)" fill="#7c8ec6" fill-opacity="0.19" stroke="#6476b4" stroke-opacity="0.38" stroke-width="1.3"/>
<ellipse cx="568.1" cy="508.6" rx="13.9" ry="6.1" transform="rotate(28 568.1 508.6)" fill="#7c8ec6" fill-opacity="0.35" stroke="#6476b4" stroke-opacity="0.23" stroke-width="1.2"/>
<ellipse cx="706.3" cy="508.5" rx="13.0" ry="7.1" transform="rotate(10 706.3 508.5)" fill="#7c8ec6" fill-opacity="0.37" stroke="#6476b4" stroke-opacity="0.37" stroke-width="1.4"/>
<ellipse cx="624.0" cy="404.1" rx="6.3" ry="4.8" transform="rotate(-47 624.0 404.1)" fill="#7c8ec6" fill-opacity="0.36" stroke="#6476b4" stroke-opacity="0.34" stroke-width="1.3"/>
<ellipse cx="742.9" cy="488.5" rx="9.9" ry="3.0" transform="rotate(36 742.9 488.5)" fill="#7c8ec6" fill-opacity="0.34" stroke="#6476b4" stroke-opacity="0.33" stroke-width="1.2"/>
<ellipse cx="752.8" cy="408.6" rx="12.4" ry="4.3" transform="rotate(-51 752.8 408.6)" fill="#7c8ec6" fill-opacity="0.22" stroke="#6476b4" stroke-opacity="0.38" stroke-width="1.0"/>
<ellipse cx="776.9" cy="526.8" rx="9.9" ry="4.9" transform="rotate(-3 776.9 526.8)" fill="#7c8ec6" fill-opacity="0.32" stroke="#6476b4" stroke-opacity="0.39" stroke-width="1.3"/>
<ellipse cx="747.8" cy="410.1" rx="6.5" ry="4.3" transform="rotate(29 747.8 410.1)" fill="#7c8ec6" fill-opacity="0.23" stroke="#6476b4" stroke-opacity="0.34" stroke-width="0.8"/>
<ellipse cx="573.2" cy="434.9" rx="11.7" ry="6.5" transform="rotate(21 573.2 434.9)" fill="#7c8ec6" fill-opacity="0.22" stroke="#6476b4" stroke-opacity="0.33" stroke-width="1.2"/>
<ellipse cx="694.9" cy="415.4" rx="13.9" ry="4.0" transform="rotate(57 694.9 415.4)" fill="#7c8ec6" fill-opacity="0.38" stroke="#6476b4" stroke-opacity="0.20" stroke-width="1.2"/>
<ellipse cx="801.0" cy="525.9" rx="9.5" ry="4.3" transform="rotate(-35 801.0 525.9)" fill="#7c8ec6" fill-opacity="0.39" stroke="#6476b4" stroke-opacity="0.25" stroke-width="1.3"/>
<ellipse cx="597.5" cy="468.1" rx="14.5" ry="3.7" transform="rotate(38 597.5 468.1)" fill="#7c8ec6" fill-opacity="0.28" stroke="#6476b4" stroke-opacity="0.42" stroke-width="1.4"/>
<ellipse cx="624.4" cy="516.7" rx="9.9" ry="3.1" transform="rotate(-60 624.4 516.7)" fill="#7c8ec6" fill-opacity="0.27" stroke="#6476b4" stroke-opacity="0.31" stroke-width="1.0"/>
<ellipse cx="597.2" cy="444.7" rx="8.2" ry="7.2" transform="rotate(-60 597.2 444.7)" fill="#7c8ec6" fill-opacity="0.34" stroke="#6476b4" stroke-opacity="0.41" stroke-width="0.9"/>
<ellipse cx="832.9" cy="492.7" rx="14.0" ry="4.4" transform="rotate(-15 832.9 492.7)" fill="#7c8ec6" fill-opacity="0.25" stroke="#6476b4" stroke-opacity="0.45" stroke-width="1.3"/>
<ellipse cx="663.2" cy="455.6" rx="7.8" ry="3.2" transform="rotate(-48 663.2 455.6)" fill="#7c8ec6" fill-opacity="0.36" stroke="#6476b4" stroke-opacity="0.27" stroke-width="1.5"/>
<ellipse cx="629.8" cy="434.5" rx="10.1" ry="3.9" transform="rotate(-15 629.8 434.5)" fill="#7c8ec6" fill-opacity="0.39" stroke="#6476b4" stroke-opacity="0.42" stroke-width="1.4"/>
<ellipse cx="744.3" cy="518.7" rx="14.4" ry="5.7" transform="rotate(26 744.3 518.7)" fill="#7c8ec6" fill-opacity="0.16" stroke="#6476b4" stroke-opacity="0.38" stroke-width="1.2"/>
<ellipse cx="780.8" cy="483.8" rx="7.9" ry="3.2" transform="rotate(51 780.8 483.8)" fill="#7c8ec6" fill-opacity="0.18" stroke="#6476b4" stroke-opacity="0.32" stroke-width="1.1"/>
<ellipse cx="644.3" cy="496.1" rx="14.8" ry="4.3" transform="rotate(19 644.3 496.1)" fill="#7c8ec6" fill-opacity="0.23" stroke="#6476b4" stroke-opacity="0.34" stroke-width="1.1"/>
<ellipse cx="605.2" cy="421.0" rx="7.1" ry="7.5" transform="rotate(-0 605.2 421.0)" fill="#7c8ec6" fill-opacity="0.21" stroke="#6476b4" stroke-opacity="0.43" stroke-width="1.6"/>
<ellipse cx="690.0" cy="418.1" rx="6.9" ry="3.5" transform="rotate(-19 690.0 418.1)" fill="#7c8ec6" fill-opacity="0.17" stroke="#6476b4" stroke-opacity="0.26" stroke-width="1.0"/>
<ellipse cx="725.9" cy="515.3" rx="12.5" ry="5.1" transform="rotate(-10 725.9 515.3)" fill="#7c8ec6" fill-opacity="0.28" stroke="#6476b4" stroke-opacity="0.29" stroke-width="1.1"/>
<ellipse cx="573.6" cy="436.1" rx="14.7" ry="3.6" transform="rotate(0 573.6 436.1)" fill="#7c8ec6" fill-opacity="0.31" stroke="#6476b4" stroke-opacity="0.42" stroke-width="1.0"/>
<ellipse cx="636.3" cy="432.3" rx="9.0" ry="5.2" transform="rotate(54 636.3 432.3)" fill="#7c8ec6" fill-opacity="0.36" stroke="#6476b4" stroke-opacity="0.42" stroke-width="0.8"/>
<ellipse cx="564.7" cy="492.2" rx="14.0" ry="5.4" transform="rotate(10 564.7 492.2)" fill="#7c8ec6" fill-opacity="0.15" stroke="#6476b4" stroke-opacity="0.30" stroke-width="1.5"/>
<ellipse cx="802.7" cy="511.2" rx="14.7" ry="4.2" transform="rotate(-47 802.7 511.2)" fill="#7c8ec6" fill-opacity="0.19" stroke="#6476b4" stroke-opacity="0.33" stroke-width="1.3"/>
<ellipse cx="837.4" cy="493.8" rx="11.5" ry="6.8" transform="rotate(-5 837.4 493.8)" fill="#7c8ec6" fill-opacity="0.29" stroke="#6476b4" stroke-opacity="0.21" stroke-width="1.4"/>
<ellipse cx="624.8" cy="519.6" rx="11.5" ry="4.5" transform="rotate(-45 624.8 519.6)" fill="#7c8ec6" fill-opacity="0.21" stroke="#6476b4" stroke-opacity="0.36" stroke-width="1.4"/>
<ellipse cx="588.6" cy="409.1" rx="10.2" ry="5.9" transform="rotate(-13 588.6 409.1)" fill="#7c8ec6" fill-opacity="0.21" stroke="#6476b4" stroke-opacity="0.35" stroke-width="0.8"/>
<ellipse cx="645.5" cy="459.9" rx="14.6" ry="6.2" transform="rotate(46 645.5 459.9)" fill="#7c8ec6" fill-opacity="0.27" stroke="#6476b4" stroke-opacity="0.26" stroke-width="1.0"/>
<ellipse cx="843.2" cy="491.6" rx="8.1" ry="3.1" transform="rotate(-0 843.2 491.6)" fill="#7c8ec6" fill-opacity="0.32" stroke="#6476b4" stroke-opacity="0.31" stroke-width="1.0"/>
<ellipse cx="755.2" cy="520.3" rx="7.3" ry="3.2" transform="rotate(-19 755.2 520.3)" fill="#7c8ec6" fill-opacity="0.26" stroke="#6476b4" stroke-opacity="0.37" stroke-width="1.0"/>
<ellipse cx="794.1" cy="496.1" rx="10.0" ry="4.0" transform="rotate(56 794.1 496.1)" fill="#7c8ec6" fill-opacity="0.23" stroke="#6476b4" stroke-opacity="0.41" stroke-width="1.0"/>
<ellipse cx="621.4" cy="498.9" rx="7.9" ry="7.8" transform="rotate(-1 621.4 498.9)" fill="#7c8ec6" fill-opacity="0.20" stroke="#6476b4" stroke-opacity="0.26" stroke-width="1.1"/>
<ellipse cx="754.6" cy="523.3" rx="6.5" ry="5.0" transform="rotate(-34 754.6 523.3)" fill="#7c8ec6" fill-opacity="0.39" stroke="#6476b4" stroke-opacity="0.24" stroke-width="0.8"/>
<ellipse cx="573.0" cy="451.1" rx="14.0" ry="7.4" transform="rotate(28 573.0 451.1)" fill="#7c8ec6" fill-opacity="0.40" stroke="#6476b4" stroke-opacity="0.43" stroke-width="1.1"/>
<ellipse cx="610.7" cy="521.7" rx="12.5" ry="3.2" transform="rotate(20 610.7 521.7)" fill="#7c8ec6" fill-opacity="0.24" stroke="#6476b4" stroke-opacity="0.29" stroke-width="1.1"/>
<ellipse cx="605.8" cy="400.4" rx="7.8" ry="4.8" transform="rotate(55 605.8 400.4)" fill="#7c8ec6" fill-opacity="0.18" stroke="#6476b4" stroke-opacity="0.44" stroke-width="1.0"/>
<ellipse cx="662.0" cy="506.8" rx="13.2" ry="5.2" transform="rotate(-54 662.0 506.8)" fill="#7c8ec6" fill-opacity="0.27" stroke="#6476b4" stroke-opacity="0.29" stroke-width="1.5"/>
<ellipse cx="616.0" cy="443.7" rx="8.4" ry="2.1" transform="rotate(-11 616.0 443.7)" fill="#c6cfea" fill-opacity="0.54" stroke="#c6cfea" stroke-opacity="0.00" stroke-width="0.0"/>
<ellipse cx="782.3" cy="404.9" rx="3.2" ry="2.1" transform="rotate(50 782.3 404.9)" fill="#c6cfea" fill-opacity="0.38" stroke="#c6cfea" stroke-opacity="0.00" stroke-width="0.0"/>
<ellipse cx="776.7" cy="507.8" rx="5.0" ry="2.5" transform="rotate(55 776.7 507.8)" fill="#c6cfea" fill-opacity="0.49" stroke="#c6cfea" stroke-opacity="0.00" stroke-width="0.0"/>
<ellipse cx="636.0" cy="486.0" rx="4.9" ry="2.6" transform="rotate(-60 636.0 486.0)" fill="#c6cfea" fill-opacity="0.53" stroke="#c6cfea" stroke-opacity="0.00" stroke-width="0.0"/>
<ellipse cx="825.8" cy="476.1" rx="8.7" ry="2.0" transform="rotate(-32 825.8 476.1)" fill="#c6cfea" fill-opacity="0.44" stroke="#c6cfea" stroke-opacity="0.00" stroke-width="0.0"/>
<ellipse cx="837.5" cy="514.5" rx="5.3" ry="2.5" transform="rotate(-8 837.5 514.5)" fill="#c6cfea" fill-opacity="0.45" stroke="#c6cfea" stroke-opacity="0.00" stroke-width="0.0"/>
<ellipse cx="829.1" cy="422.0" rx="7.8" ry="3.5" transform="rotate(39 829.1 422.0)" fill="#c6cfea" fill-opacity="0.53" stroke="#c6cfea" stroke-opacity="0.00" stroke-width="0.0"/>
<ellipse cx="736.1" cy="439.3" rx="4.9" ry="2.7" transform="rotate(34 736.1 439.3)" fill="#c6cfea" fill-opacity="0.32" stroke="#c6cfea" stroke-opacity="0.00" stroke-width="0.0"/>
<ellipse cx="617.2" cy="490.3" rx="4.5" ry="2.1" transform="rotate(-56 617.2 490.3)" fill="#c6cfea" fill-opacity="0.47" stroke="#c6cfea" stroke-opacity="0.00" stroke-width="0.0"/>
<ellipse cx="654.5" cy="517.6" rx="8.3" ry="4.0" transform="rotate(-28 654.5 517.6)" fill="#c6cfea" fill-opacity="0.33" stroke="#c6cfea" stroke-opacity="0.00" stroke-width="0.0"/>
<ellipse cx="588.0" cy="459.8" rx="7.3" ry="2.9" transform="rotate(-32 588.0 459.8)" fill="#c6cfea" fill-opacity="0.43" stroke="#c6cfea" stroke-opacity="0.00" stroke-width="0.0"/>
<ellipse cx="739.9" cy="480.9" rx="7.5" ry="3.7" transform="rotate(20 739.9 480.9)" fill="#c6cfea" fill-opacity="0.34" stroke="#c6cfea" stroke-opacity="0.00" stroke-width="0.0"/>
<ellipse cx="803.9" cy="435.3" rx="6.4" ry="2.7" transform="rotate(29 803.9 435.3)" fill="#c6cfea" fill-opacity="0.36" stroke="#c6cfea" stroke-opacity="0.00" stroke-width="0.0"/>
<ellipse cx="631.8" cy="429.4" rx="3.9" ry="3.8" transform="rotate(9 631.8 429.4)" fill="#c6cfea" fill-opacity="0.40" stroke="#c6cfea" stroke-opacity="0.00" stroke-width="0.0"/>
<ellipse cx="674.9" cy="519.1" rx="6.0" ry="2.5" transform="rotate(37 674.9 519.1)" fill="#c6cfea" fill-opacity="0.50" stroke="#c6cfea" stroke-opacity="0.00" stroke-width="0.0"/>
<ellipse cx="847.4" cy="412.3" rx="5.8" ry="3.6" transform="rotate(41 847.4 412.3)" fill="#c6cfea" fill-opacity="0.57" stroke="#c6cfea" stroke-opacity="0.00" stroke-width="0.0"/>
<ellipse cx="571.7" cy="435.2" rx="3.7" ry="2.4" transform="rotate(57 571.7 435.2)" fill="#c6cfea" fill-opacity="0.47" stroke="#c6cfea" stroke-opacity="0.00" stroke-width="0.0"/>
<ellipse cx="829.8" cy="444.7" rx="8.2" ry="2.9" transform="rotate(-29 829.8 444.7)" fill="#c6cfea" fill-opacity="0.53" stroke="#c6cfea" stroke-opacity="0.00" stroke-width="0.0"/>
<ellipse cx="834.3" cy="412.7" rx="6.6" ry="3.2" transform="rotate(-34 834.3 412.7)" fill="#c6cfea" fill-opacity="0.41" stroke="#c6cfea" stroke-opacity="0.00" stroke-width="0.0"/>
<ellipse cx="601.0" cy="424.5" rx="4.5" ry="3.2" transform="rotate(18 601.0 424.5)" fill="#c6cfea" fill-opacity="0.36" stroke="#c6cfea" stroke-opacity="0.00" stroke-width="0.0"/>
<path d="M653.3,352.2 Q668.9,346.7 686.7,343.3" stroke="#7383ba" stroke-width="1.8" fill="none" opacity="0.55"/>
<path d="M693.3,354.4 Q713.3,351.1 731.1,350.0" stroke="#7383ba" stroke-width="1.8" fill="none" opacity="0.55"/>
<path d="M744.4,338.9 Q751.1,345.6 757.8,350.0" stroke="#7383ba" stroke-width="1.8" fill="none" opacity="0.55"/>
<path d="M775.6,352.2 Q786.7,357.8 797.8,363.3" stroke="#7383ba" stroke-width="1.8" fill="none" opacity="0.55"/>
<path d="M804.4,367.8 Q824.4,370.0 842.2,374.4" stroke="#7383ba" stroke-width="1.8" fill="none" opacity="0.55"/>
<path d="M753.3,370.0 Q764.4,372.2 775.6,374.4" stroke="#7383ba" stroke-width="1.8" fill="none" opacity="0.55"/>
<path d="M628.9,361.1 Q642.2,363.3 655.6,367.8" stroke="#7383ba" stroke-width="1.8" fill="none" opacity="0.55"/>
<path d="M675.6,361.1 Q691.1,363.3 704.4,365.6" stroke="#7383ba" stroke-width="1.8" fill="none" opacity="0.55"/>
<path d="M724.4,363.3 Q740.0,365.6 753.3,363.3" stroke="#7383ba" stroke-width="1.8" fill="none" opacity="0.55"/>
<path d="M815.6,378.9 Q828.9,383.3 842.2,387.8" stroke="#7383ba" stroke-width="1.8" fill="none" opacity="0.55"/>
<path d="M775.6,363.3 Q788.9,366.7 797.8,372.2" stroke="#7383ba" stroke-width="1.8" fill="none" opacity="0.55"/>
<ellipse cx="700.0" cy="352.2" rx="8.1" ry="2.9" transform="rotate(-10 700.0 352.2)" fill="#eef1f8" opacity="0.7"/>
<ellipse cx="735.6" cy="355.6" rx="5.2" ry="1.7" transform="rotate(-5 735.6 355.6)" fill="#eef1f8" opacity="0.7"/>
<ellipse cx="822.2" cy="371.1" rx="5.2" ry="1.7" transform="rotate(10 822.2 371.1)" fill="#eef1f8" opacity="0.7"/>
<ellipse cx="762.2" cy="361.1" rx="5.8" ry="1.4" transform="rotate(15 762.2 361.1)" fill="#eef1f8" opacity="0.7"/>
<ellipse cx="664.4" cy="356.7" rx="5.8" ry="1.7" transform="rotate(-15 664.4 356.7)" fill="#eef1f8" opacity="0.7"/>
<ellipse cx="642.2" cy="367.8" rx="4.6" ry="1.4" transform="rotate(0 642.2 367.8)" fill="#eef1f8" opacity="0.7"/>
<ellipse cx="788.9" cy="374.4" rx="4.0" ry="1.2" transform="rotate(20 788.9 374.4)" fill="#eef1f8" opacity="0.7"/>
<ellipse cx="838" cy="430" rx="5" ry="11" fill="#dfe4f2" opacity="0.75" transform="rotate(-30 838 430)"/>
<ellipse cx="848" cy="455" rx="3" ry="7" fill="#eef1f8" opacity="0.7" transform="rotate(-60 848 455)"/>
</g>
</g>
<g fill="none" stroke-width="3.9" stroke-linecap="round" clip-path="url(#gelclip)">
<path d="M616.9,385.2 C620.0,386.2 632.0,388.0 635.6,390.8 C639.2,393.6 638.1,400.2 638.6,402.0" stroke="#da8fda"/>
<path d="M557.3,435.6 C559.1,432.4 562.3,419.9 568.5,416.2 C574.7,412.5 588.4,414.3 594.6,413.2 C600.8,412.1 603.9,410.1 605.8,409.5" stroke="#da8fda"/>
<path d="M594.6,437.8 C597.7,438.1 608.4,438.4 613.2,439.3 C618.1,440.2 621.9,442.4 623.7,443.0" stroke="#da8fda"/>
<path d="M628.1,409.5 C628.7,411.3 628.1,417.6 631.9,420.7 C635.6,423.8 644.3,426.3 650.5,428.1 C656.7,430.0 667.3,428.1 669.1,431.9 C671.0,435.6 664.2,444.9 661.7,450.5 C659.2,456.1 658.1,461.6 654.2,465.4 C650.4,469.3 641.2,472.2 638.6,473.6" stroke="#da8fda"/>
<path d="M713.9,383.4 C716.4,383.4 723.8,382.1 728.8,383.4 C733.8,384.6 740.2,388.8 743.7,390.8 C747.3,392.9 746.3,395.1 750.1,395.7 C753.8,396.3 763.4,394.8 766.1,394.6" stroke="#da8fda"/>
<path d="M723.2,417.7 C726.6,418.2 737.2,419.6 743.7,420.7 C750.2,421.8 757.2,422.7 762.4,424.4 C767.5,426.1 772.6,429.7 774.7,430.7" stroke="#da8fda"/>
<path d="M774.7,430.7 C777.0,429.1 783.5,422.5 788.5,420.7 C793.4,418.8 799.5,419.9 804.5,419.6 C809.5,419.2 813.5,420.5 818.3,418.8 C823.1,417.1 830.4,414.1 833.2,409.5 C836.0,404.8 834.8,393.9 835.1,390.8" stroke="#da8fda"/>
<path d="M575.9,461.7 C580.3,462.3 593.9,464.2 602.0,465.4 C610.1,466.7 619.4,466.0 624.4,469.1 C629.4,472.2 627.5,480.3 631.9,484.1 C636.2,487.8 644.6,490.8 650.5,491.5 C656.4,492.3 661.1,487.9 667.3,488.5 C673.5,489.2 680.0,494.1 687.8,495.2 C695.6,496.4 703.9,497.1 713.9,495.2 C723.8,493.4 738.7,485.9 747.4,484.1 C756.1,482.2 761.1,485.3 766.1,484.1 C771.1,482.8 775.4,477.8 777.3,476.6" stroke="#da8fda"/>
<path d="M680.3,450.5 C683.4,449.9 692.1,447.6 699.0,446.8 C705.8,446.0 715.1,445.0 721.3,445.7 C727.6,446.3 730.9,451.2 736.3,450.5 C741.7,449.8 748.8,444.7 753.8,441.6 C758.8,438.4 764.0,433.5 766.1,431.9" stroke="#da8fda"/>
<path d="M781.0,443.0 L788.5,435.6" stroke="#da8fda"/>
<path d="M643.0,385.2 C646.0,383.1 654.7,373.1 660.9,372.2 C667.2,371.3 674.6,378.1 680.3,379.7 C686.0,381.2 689.8,382.5 695.2,381.5 C700.6,380.6 707.2,376.5 712.8,374.1 C718.4,371.6 723.6,367.5 728.8,366.6 C734.0,365.7 741.2,368.2 743.7,368.5" stroke="#a8dc7c"/>
<path d="M564.7,405.8 C565.4,407.5 566.0,413.1 568.5,416.2 C571.0,419.3 575.3,420.8 579.7,424.4 C584.0,428.0 592.1,435.6 594.6,437.8" stroke="#a8dc7c"/>
<path d="M609.5,398.3 C614.3,398.9 629.9,400.2 638.6,402.0 C647.3,403.9 656.6,407.0 661.7,409.5 C666.8,412.0 670.4,414.3 669.1,416.9 C667.9,419.6 659.8,422.0 654.2,425.1 C648.6,428.3 640.7,432.6 635.6,435.6 C630.5,438.6 626.1,439.9 623.7,443.0 C621.2,446.1 619.3,450.8 620.7,454.2 C622.0,457.6 630.0,462.0 631.9,463.5" stroke="#a8dc7c"/>
<path d="M689.6,402.0 C692.4,403.3 700.8,406.9 706.4,409.5 C712.0,412.1 719.8,414.0 723.2,417.7 C726.6,421.4 727.2,427.2 726.9,431.9 C726.6,436.5 722.3,443.4 721.3,445.7" stroke="#a8dc7c"/>
<path d="M766.1,387.1 C764.8,390.2 757.2,398.5 758.6,405.8 C760.1,413.0 770.3,425.1 774.7,430.7 C779.0,436.3 783.0,437.9 784.7,439.3" stroke="#a8dc7c"/>
<path d="M684.1,431.9 C686.5,433.7 695.9,439.3 699.0,443.0 C702.1,446.8 703.9,449.9 702.7,454.2 C701.5,458.6 694.6,464.2 691.5,469.1 C688.4,474.1 685.0,477.8 684.1,484.1 C683.1,490.3 685.6,502.7 685.9,506.4" stroke="#a8dc7c"/>
<path d="M609.5,472.9 C614.3,473.0 630.5,472.4 638.6,473.6 C646.6,474.9 653.2,477.8 658.0,480.3 C662.7,482.8 665.4,486.0 667.3,488.5 C669.1,491.0 668.8,494.1 669.1,495.2" stroke="#a8dc7c"/>
<path d="M579.7,467.3 C581.3,466.3 586.9,465.1 589.4,461.7 C591.8,458.3 593.7,450.7 594.6,446.8 C595.4,442.8 594.6,439.3 594.6,437.8" stroke="#a8dc7c"/>
<path d="M638.6,402.0 L643.0,385.2" stroke="#a8dc7c"/>
<path d="M562.1,413.2 C563.8,411.0 566.8,403.6 572.2,400.2 C577.6,396.7 588.4,393.0 594.6,392.7 C600.8,392.4 607.0,397.4 609.5,398.3" stroke="#a8dc7c"/>
<path d="M713.9,409.5 L728.8,409.5" stroke="#a8dc7c"/>
<path d="M579.7,397.6 C580.3,399.2 580.6,405.9 583.4,407.6 C586.2,409.3 594.3,407.6 596.4,407.6" stroke="#f9da5e"/>
<path d="M648.6,366.6 L657.2,369.2" stroke="#f9da5e"/>
<path d="M663.5,378.9 L664.7,384.1" stroke="#f9da5e"/>
<path d="M691.5,396.4 L713.9,392.7" stroke="#f9da5e"/>
<path d="M680.3,407.6 C680.9,409.5 681.6,416.1 684.1,418.8 C686.5,421.5 693.4,422.8 695.2,423.7" stroke="#f9da5e"/>
<path d="M676.6,441.2 L691.5,433.7" stroke="#f9da5e"/>
<path d="M691.5,461.7 C693.4,462.3 699.3,465.4 702.7,465.4 C706.1,465.4 710.5,462.3 712.0,461.7" stroke="#f9da5e"/>
<path d="M797.8,424.4 C798.7,427.5 800.0,438.4 803.4,443.0 C806.8,447.7 815.8,450.8 818.3,452.4" stroke="#f9da5e"/>
<path d="M805.2,409.5 L807.1,414.0" stroke="#f9da5e"/>
</g>
<circle cx="660.9" cy="372.2" r="5.5" fill="#497cec"/>
<circle cx="712.8" cy="374.1" r="5.5" fill="#497cec"/>
<circle cx="638.6" cy="402.0" r="5.5" fill="#497cec"/>
<circle cx="689.6" cy="402.0" r="5.5" fill="#497cec"/>
<circle cx="750.1" cy="395.7" r="5.5" fill="#497cec"/>
<circle cx="568.5" cy="416.2" r="5.5" fill="#497cec"/>
<circle cx="654.2" cy="425.1" r="5.5" fill="#497cec"/>
<circle cx="723.2" cy="417.7" r="5.5" fill="#497cec"/>
<circle cx="774.7" cy="430.7" r="5.5" fill="#497cec"/>
<circle cx="804.5" cy="419.6" r="5.5" fill="#497cec"/>
<circle cx="594.6" cy="437.8" r="5.5" fill="#497cec"/>
<circle cx="623.7" cy="443.0" r="5.5" fill="#497cec"/>
<circle cx="721.3" cy="445.7" r="5.5" fill="#497cec"/>
<circle cx="753.8" cy="441.6" r="5.5" fill="#497cec"/>
<circle cx="638.6" cy="473.6" r="5.5" fill="#497cec"/>
<circle cx="667.3" cy="488.5" r="5.5" fill="#497cec"/>
<circle cx="747.4" cy="484.1" r="5.5" fill="#497cec"/>
<circle cx="603.9" cy="392.7" r="6" fill="#909298"/><circle cx="603.9" cy="392.7" r="3.6" fill="#2c2926"/><circle cx="603.9" cy="392.7" r="1.6" fill="#4b4036"/>
<circle cx="669.1" cy="398.3" r="6" fill="#909298"/><circle cx="669.1" cy="398.3" r="3.6" fill="#2c2926"/><circle cx="669.1" cy="398.3" r="1.6" fill="#4b4036"/>
<circle cx="724.3" cy="397.2" r="6" fill="#909298"/><circle cx="724.3" cy="397.2" r="3.6" fill="#2c2926"/><circle cx="724.3" cy="397.2" r="1.6" fill="#4b4036"/>
<circle cx="741.1" cy="375.9" r="6" fill="#909298"/><circle cx="741.1" cy="375.9" r="3.6" fill="#2c2926"/><circle cx="741.1" cy="375.9" r="1.6" fill="#4b4036"/>
<circle cx="786.6" cy="399.4" r="6" fill="#909298"/><circle cx="786.6" cy="399.4" r="3.6" fill="#2c2926"/><circle cx="786.6" cy="399.4" r="1.6" fill="#4b4036"/>
<circle cx="697.5" cy="429.2" r="6" fill="#909298"/><circle cx="697.5" cy="429.2" r="3.6" fill="#2c2926"/><circle cx="697.5" cy="429.2" r="1.6" fill="#4b4036"/>
<circle cx="589.4" cy="461.7" r="6" fill="#909298"/><circle cx="589.4" cy="461.7" r="3.6" fill="#2c2926"/><circle cx="589.4" cy="461.7" r="1.6" fill="#4b4036"/>
<circle cx="668.4" cy="463.5" r="6" fill="#909298"/><circle cx="668.4" cy="463.5" r="3.6" fill="#2c2926"/><circle cx="668.4" cy="463.5" r="1.6" fill="#4b4036"/>
<circle cx="724.0" cy="470.3" r="6" fill="#909298"/><circle cx="724.0" cy="470.3" r="3.6" fill="#2c2926"/><circle cx="724.0" cy="470.3" r="1.6" fill="#4b4036"/>
<circle cx="767.2" cy="460.9" r="6" fill="#909298"/><circle cx="767.2" cy="460.9" r="3.6" fill="#2c2926"/><circle cx="767.2" cy="460.9" r="1.6" fill="#4b4036"/>
<!-- curved arrows -->
<path d="M963.2,317.8 C957.9,318.7 940.5,320.4 931.2,323.3 C921.9,326.1 914.6,329.6 907.5,335.1 C900.3,340.7 894.0,347.8 888.5,356.5 C882.9,365.2 877.6,377.0 874.2,387.3 C870.9,397.7 869.2,409.9 868.3,418.7 C867.4,427.4 868.9,436.4 869.0,440.0 L869.5,442.4 C870.4,440.8 872.7,438.0 874.7,432.9 C876.7,427.7 877.9,419.8 881.4,411.5 C884.8,403.3 890.1,391.8 895.6,383.5 C901.1,375.3 907.5,368.1 914.6,362.2 C921.7,356.2 929.6,351.0 938.3,347.9 C947.0,344.9 962.0,344.6 966.8,343.9Z" fill="url(#arrU)"/>
<path d="M867.0,420.0 C867.4,422.3 868.3,427.4 869.5,433.7 C870.7,439.9 871.8,450.0 874.2,457.5 C876.6,465.0 879.4,472.5 883.7,478.8 C888.1,485.1 894.0,490.6 900.3,495.4 C906.6,500.1 914.6,504.1 921.7,507.3 C928.8,510.5 935.8,512.6 943.0,514.4 C950.2,516.2 961.3,517.4 965.0,518.0 L965.6,535.8 L990.5,508.5 L964.4,491.9 L964.4,494.2 C960.8,494.0 950.1,494.0 943.0,493.0 C935.9,492.0 928.8,490.7 921.7,488.3 C914.6,485.9 906.6,482.8 900.3,478.8 C894.0,474.9 888.1,469.7 883.7,464.6 C879.3,459.5 876.5,453.4 874.0,448.0 C871.5,442.6 869.7,436.7 868.5,432.0 C867.3,427.3 867.2,422.0 867.0,420.0Z" fill="url(#arrL)"/>
<!-- glow dots -->
<circle cx="962" cy="367.6" r="24" fill="url(#glow)"/>
<circle cx="911.7" cy="463.4" r="24" fill="url(#glow)"/>
<circle cx="973.4" cy="472.2" r="24" fill="url(#glow)"/>
<circle cx="962" cy="367.6" r="2.8" fill="#fff"/>
<circle cx="911.7" cy="463.4" r="2.8" fill="#fff"/>
<circle cx="973.4" cy="472.2" r="2.8" fill="#fff"/>
<text x="899.2" y="408.5" font-size="19.9" fill="#2a2a2a" stroke="#2a2a2a" stroke-width="0.45">Antifouling</text>
<text x="889.5" y="439.7" font-size="20.2" fill="#2a2a2a" stroke="#2a2a2a" stroke-width="0.45">Antibacterial</text>

<path d="M995.5,326 C1000,338 1007,345 1007,358 C1007,370 1008,378 1020,383.5" fill="none" stroke="#5cc47e" stroke-width="1.4"/>
<path d="M1002.8,324 C1010,330 1014,334 1016,345 C1019,360 1020,372 1026,380 C1032,388 1038,394 1042.2,397.5" fill="none" stroke="#5cc47e" stroke-width="1.4"/>
<g transform="translate(985.6,298.7) rotate(-21.3)">
<path d="M10.5,-20.6L16.4,-19.5L10.5,-18.4ZM10.5,-16.1L16.7,-15.0L10.5,-13.9ZM10.5,-11.3L14.3,-10.2L10.5,-9.1ZM10.5,-8.4L17.8,-7.3L10.5,-6.2ZM10.5,-3.6L15.1,-2.5L10.5,-1.4ZM10.5,2.2L16.1,3.3L10.5,4.4ZM10.5,6.1L16.1,7.2L10.5,8.3ZM10.5,9.9L14.7,11.0L10.5,12.1ZM10.5,14.1L17.9,15.2L10.5,16.3ZM10.5,18.0L17.3,19.3L10.5,20.2ZM10.0,22.2L13.1,24.7L9.1,24.2ZM8.1,25.7L11.6,30.9L6.5,27.2ZM5.9,27.7L6.6,31.4L3.9,28.7ZM1.3,29.4L0.2,35.0L-0.9,29.4ZM-2.3,29.2L-5.7,35.9L-4.4,28.5ZM-5.9,27.7L-11.6,32.9L-7.5,26.3ZM-8.2,25.5L-14.8,28.4L-9.4,23.6ZM-10.1,22.0L-17.9,22.4L-10.5,19.8ZM-10.5,17.1L-14.4,16.0L-10.5,14.9ZM-10.5,14.4L-15.0,13.3L-10.5,12.2ZM-10.5,8.5L-16.0,7.4L-10.5,6.3ZM-10.5,4.9L-15.4,3.8L-10.5,2.7ZM-10.5,1.0L-15.7,-0.1L-10.5,-1.2ZM-10.5,-2.9L-16.6,-4.0L-10.5,-5.1ZM-10.5,-7.6L-18.1,-8.7L-10.5,-9.8ZM-10.5,-12.1L-18.2,-13.2L-10.5,-14.3ZM-10.5,-16.7L-18.5,-17.8L-10.5,-18.9ZM-10.5,-20.3L-14.3,-22.3L-10.0,-22.4ZM-9.1,-24.3L-14.8,-29.8L-7.8,-26.0ZM-6.5,-27.2L-8.8,-32.9L-4.6,-28.4ZM-3.4,-28.9L-3.4,-33.5L-1.3,-29.4ZM0.6,-29.4L2.7,-35.3L2.8,-29.1ZM3.4,-28.9L5.9,-31.9L5.4,-28.0ZM7.5,-26.3L14.5,-30.4L8.9,-24.6ZM9.0,-24.4L15.9,-26.4L10.0,-22.4Z" fill="#45b965"/>
<rect x="-11.5" y="-30.4" width="23.0" height="60.8" rx="11.5" ry="11.5" fill="url(#gbac)"/>
</g>
<path d="M1022,523 C1028,530 1033,536 1033,548 C1034,560 1036,572 1047.4,577.4" fill="none" stroke="#f2939c" stroke-width="1.4"/>
<path d="M1032.2,518 C1038,520 1042,524 1044,535 C1047,550 1049,560 1055,572 C1060,580 1064,585 1068,590" fill="none" stroke="#f2939c" stroke-width="1.4"/>
<g transform="translate(1015,490.2) rotate(-22.9)">
<path d="M10.0,-21.3L14.2,-20.2L10.0,-19.1ZM10.0,-17.3L17.0,-16.2L10.0,-15.1ZM10.0,-11.8L13.7,-10.7L10.0,-9.6ZM10.0,-8.1L13.7,-7.0L10.0,-5.9ZM10.0,-3.6L15.0,-2.5L10.0,-1.4ZM10.0,1.0L17.9,2.1L10.0,3.2ZM10.0,4.5L18.0,5.6L10.0,6.7ZM10.0,8.3L13.8,9.4L10.0,10.5ZM10.0,13.2L13.6,14.3L10.0,15.4ZM10.0,16.6L15.3,17.7L10.0,18.8ZM9.9,21.5L13.7,23.6L9.4,23.6ZM9.2,24.2L15.0,28.9L8.0,26.0ZM6.5,27.7L10.0,34.7L4.7,28.9ZM2.0,29.8L1.4,35.1L-0.1,30.1ZM-1.0,30.0L-3.3,35.5L-3.1,29.6ZM-5.0,28.7L-9.5,33.1L-6.8,27.4ZM-7.8,26.3L-13.7,28.8L-9.0,24.5ZM-9.8,22.2L-15.7,21.7L-10.1,20.0ZM-10.0,19.1L-16.7,18.0L-10.0,16.9ZM-10.0,15.3L-14.9,14.2L-10.0,13.1ZM-10.0,9.4L-15.8,8.3L-10.0,7.2ZM-10.0,6.1L-13.6,5.0L-10.0,3.9ZM-10.0,2.1L-16.1,1.0L-10.0,-0.1ZM-10.0,-1.3L-16.3,-2.4L-10.0,-3.5ZM-10.0,-6.9L-13.8,-8.0L-10.0,-9.1ZM-10.0,-11.1L-15.6,-12.2L-10.0,-13.3ZM-10.0,-15.5L-15.1,-16.6L-10.0,-17.7ZM-10.1,-19.7L-16.8,-21.4L-9.9,-21.9ZM-9.8,-22.3L-13.0,-24.6L-9.1,-24.4ZM-7.4,-26.8L-11.7,-33.4L-5.8,-28.2ZM-5.0,-28.7L-6.3,-34.2L-3.0,-29.6ZM-0.7,-30.0L0.6,-34.9L1.5,-29.9ZM2.7,-29.7L5.6,-33.8L4.8,-28.9ZM6.2,-27.9L11.3,-31.6L7.8,-26.4ZM8.7,-25.1L13.8,-26.3L9.6,-23.1Z" fill="#f2798a"/>
<rect x="-11" y="-31" width="22" height="62" rx="11" ry="11" fill="url(#rbac)"/>
</g>
</g>
</svg>
</body></html>
